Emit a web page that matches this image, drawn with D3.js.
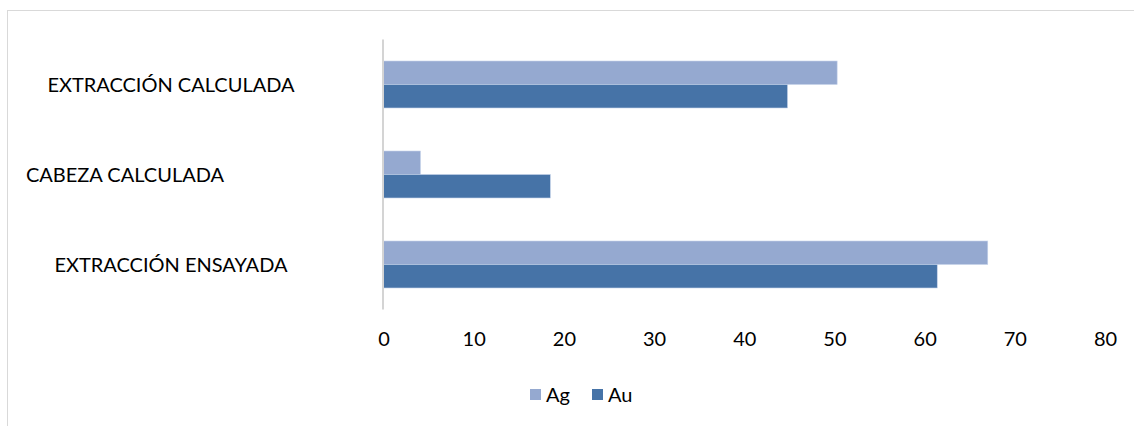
<!DOCTYPE html>
<html>
<head>
<meta charset="utf-8">
<script src="https://cdn.jsdelivr.net/npm/d3@7"></script>
<style>
  html, body { margin: 0; padding: 0; background: #fff; }
  svg { display: block; }
  text { font-family: Lato, "Open Sans", sans-serif; fill: #000; }
</style>
</head>
<body>
<div class="container"></div>
<script>
(function() {
  // Data
  var categories = ['EXTRACCIÓN CALCULADA', 'CABEZA CALCULADA', 'EXTRACCIÓN ENSAYADA'];
  var seriesNames = ['Ag', 'Au'];
  var agValues = [50.3, 4.1, 67.0];
  var auValues = [44.8, 18.5, 61.4];
  var xTicks = [0, 10, 20, 30, 40, 50, 60, 70, 80];

  var colors = { Ag: '#95a9d0', Au: '#4673a7' };

  // Layout
  var width = 1134, height = 426;
  var plot = { left: 383.5, right: 1105, top: 39.5, bottom: 309.5 };
  var labelCenters = [171, 125, 171];

  var svg = d3.select('div.container').append('svg')
    .attr('width', width).attr('height', height);

  // outer chart border (runs off right / bottom edge)
  svg.append('rect')
    .attr('x', 7.5).attr('y', 10.5)
    .attr('width', width + 20).attr('height', height + 20)
    .attr('fill', 'none').attr('stroke', '#d9d9d9').attr('stroke-width', 1);

  var x = d3.scaleLinear().domain([0, 80]).range([plot.left, plot.right]);
  var y = d3.scaleBand().domain(categories)
    .range([plot.top, plot.bottom])
    .paddingInner(0.478).paddingOuter(0.239);
  var ySub = d3.scaleBand().domain(seriesNames).range([0, y.bandwidth()]);

  var rows = categories.map(function(c, i) {
    return { cat: c, values: [{ s: 'Ag', v: agValues[i] }, { s: 'Au', v: auValues[i] }] };
  });

  var groups = svg.append('g').selectAll('g')
    .data(rows).enter().append('g')
    .attr('transform', function(d) { return 'translate(0,' + y(d.cat) + ')'; });

  groups.selectAll('rect')
    .data(function(d) { return d.values; })
    .enter().append('rect')
    .attr('x', x(0))
    .attr('y', function(d) { return ySub(d.s); })
    .attr('width', function(d) { return x(d.v) - x(0); })
    .attr('height', ySub.bandwidth())
    .attr('fill', function(d) { return colors[d.s]; })
    .attr('stroke', '#c5d2ea').attr('stroke-width', 0.6);

  // vertical category axis line
  svg.append('line')
    .attr('x1', plot.left - 0.5).attr('x2', plot.left - 0.5)
    .attr('y1', plot.top).attr('y2', plot.bottom)
    .attr('stroke', '#d4d4d4').attr('stroke-width', 2);

  // category labels
  svg.append('g').selectAll('text')
    .data(categories).enter().append('text')
    .attr('x', function(d, i) { return labelCenters[i]; })
    .attr('y', function(d) { return y(d) + y.bandwidth() / 2; })
    .attr('dy', '0.35em')
    .attr('text-anchor', 'middle')
    .style('font-size', '20px')
    .text(function(d) { return d; });

  // value axis
  var xAxis = d3.axisBottom(x).tickValues(xTicks).tickSize(0).tickPadding(0);
  var gx = svg.append('g').attr('transform', 'translate(0,' + 332 + ')').call(xAxis);
  gx.select('.domain').remove();
  gx.selectAll('text')
    .style('font-size', '20px')
    .style('font-family', 'Lato, "Open Sans", sans-serif')
    .attr('fill', '#000');

  // legend
  var legend = svg.append('g').attr('transform', 'translate(530,389)');
  var items = legend.selectAll('g').data(seriesNames).enter().append('g')
    .attr('transform', function(d, i) { return 'translate(' + (i * 62) + ',0)'; });
  items.append('rect').attr('width', 11).attr('height', 11)
    .attr('fill', function(d) { return colors[d]; });
  items.append('text').attr('x', 16).attr('y', 6).attr('dy', '0.35em')
    .style('font-size', '20px')
    .text(function(d) { return d; });
}).call(this);
</script>
</body>
</html>
